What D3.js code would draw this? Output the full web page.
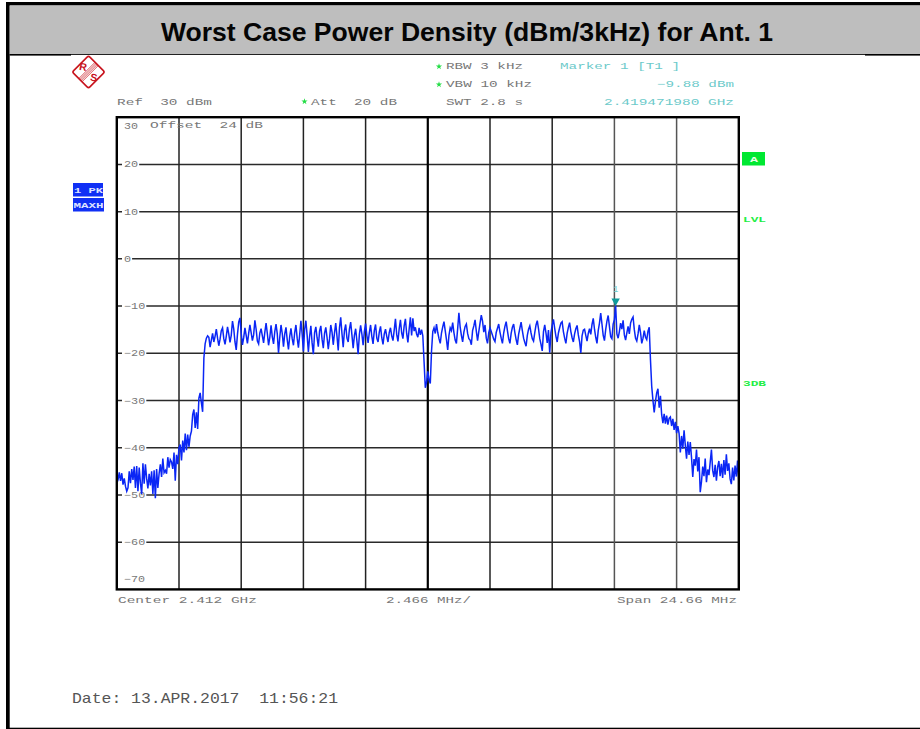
<!DOCTYPE html>
<html>
<head>
<meta charset="utf-8">
<script src="https://d3js.org/d3.v7.min.js"></script>
<style>
html,body{margin:0;padding:0;background:#fff;overflow:hidden}
svg{display:block}
text{white-space:pre}
</style>
</head>
<body>
<div id="chart"></div>
<script>
const title = "Worst Case Power Density (dBm/3kHz) for Ant. 1";
const centerMHz = 2412;
const spanMHz = 24.66;
const refLevel = 30;
const bottomLevel = -70;
const levelTicks = [20, 10, 0, -10, -20, -30, -40, -50, -60];
const freqDivisions = [1, 2, 3, 4, 5, 6, 7, 8, 9];
const markerIndex = 401;
const levels = [
-47.5,-46.8,-45.2,-47.0,-45.4,-47.8,-46.5,-48.2,-49.2,-48.5,
-45.0,-47.5,-44.5,-46.8,-44.0,-48.5,-43.9,-49.2,-44.2,-47.5,
-49.8,-43.3,-47.6,-43.5,-46.5,-48.6,-45.5,-48.0,-45.0,-49.8,
-44.8,-50.7,-44.5,-48.5,-45.5,-43.5,-46.2,-42.3,-45.3,-44.8,
-45.5,-42.0,-44.2,-42.5,-43.0,-44.5,-41.0,-47.0,-41.5,-43.5,
-40.0,-39.3,-42.7,-38.5,-41.0,-37.0,-40.5,-37.2,-39.8,-37.5,
-36.5,-33.0,-31.9,-35.8,-32.5,-36.0,-29.5,-28.4,-30.5,-32.4,
-21.0,-18.0,-16.8,-16.3,-16.6,-18.7,-17.2,-15.8,-17.6,-16.4,
-14.9,-16.8,-18.4,-17.0,-15.2,-14.6,-16.9,-18.1,-16.4,-14.4,
-15.9,-17.7,-16.2,-13.2,-14.8,-17.6,-19.3,-16.0,-13.4,-12.5,
-15.7,-18.2,-16.7,-14.6,-16.2,-17.9,-15.8,-14.0,-15.6,-17.3,
-16.1,-13.0,-14.9,-17.4,-18.0,-15.7,-14.8,-16.3,-17.8,-15.5,
-13.6,-15.8,-18.3,-16.6,-14.1,-16.5,-18.0,-15.4,-13.8,-15.9,
-19.9,-16.6,-14.0,-15.8,-18.6,-15.9,-14.5,-17.1,-19.2,-16.4,
-14.7,-16.9,-18.3,-15.6,-14.0,-16.8,-18.8,-16.1,-13.1,-15.9,
-19.6,-14.9,-13.1,-16.2,-19.7,-16.4,-14.2,-17.8,-20.2,-15.6,
-14.4,-16.7,-18.6,-15.3,-14.2,-17.0,-18.9,-15.8,-14.5,-16.6,
-19.1,-16.9,-14.0,-15.5,-18.2,-15.7,-13.6,-16.4,-19.4,-14.6,
-12.4,-15.8,-18.7,-15.2,-13.9,-16.8,-17.6,-14.9,-13.4,-16.1,
-18.9,-16.2,-14.8,-17.3,-20.2,-16.0,-14.1,-15.9,-18.3,-15.4,
-13.7,-16.2,-17.8,-15.6,-14.0,-16.4,-18.0,-15.2,-13.9,-16.8,
-17.6,-15.5,-14.3,-16.7,-18.1,-15.9,-14.9,-16.4,-17.6,-15.6,
-14.6,-16.3,-17.3,-15.1,-12.7,-16.0,-17.5,-14.8,-12.9,-15.7,
-16.9,-14.2,-12.7,-15.8,-17.7,-14.9,-12.4,-16.2,-12.6,-15.3,
-14.5,-15.9,-16.6,-14.6,-16.1,-15.0,-16.3,-21.8,-27.3,-26.1,
-23.8,-25.6,-26.4,-19.5,-15.4,-14.6,-15.8,-13.8,-15.6,-16.9,
-17.9,-15.7,-14.4,-13.3,-15.2,-17.1,-19.3,-16.2,-14.6,-15.2,
-13.5,-15.6,-17.2,-17.9,-14.8,-11.4,-14.4,-16.2,-17.6,-15.5,
-14.3,-13.8,-15.8,-16.9,-17.2,-18.2,-15.2,-14.2,-12.9,-15.3,
-17.3,-15.4,-13.6,-11.9,-13.2,-15.5,-14.0,-16.8,-17.9,-15.6,
-14.6,-15.4,-16.2,-17.0,-17.5,-15.6,-14.7,-13.8,-15.5,-16.8,
-17.9,-15.7,-14.3,-13.3,-15.2,-16.9,-17.9,-15.8,-14.5,-13.8,
-15.6,-17.1,-18.2,-16.0,-14.7,-13.4,-15.2,-16.8,-17.7,-18.5,
-16.2,-14.9,-14.2,-15.7,-16.9,-17.4,-15.6,-14.0,-13.1,-14.8,
-16.9,-18.1,-19.5,-15.4,-14.0,-15.7,-17.8,-15.1,-19.9,-15.6,
-14.1,-12.8,-14.7,-16.4,-17.6,-15.7,-14.6,-13.6,-13.3,-15.4,
-16.8,-17.9,-15.8,-14.5,-13.5,-15.4,-16.7,-17.6,-15.9,-14.8,
-14.1,-16.1,-17.5,-19.9,-16.3,-15.1,-14.9,-16.2,-17.4,-15.8,
-14.8,-16.0,-13.9,-12.6,-14.9,-16.6,-17.9,-15.2,-13.6,-11.5,
-13.8,-16.2,-17.3,-15.0,-13.2,-12.0,-14.3,-16.5,-16.9,-13.8,
-12.9,-9.88,-15.9,-16.8,-15.4,-13.6,-14.9,-13.0,-16.1,-17.2,
-15.7,-14.3,-15.9,-13.6,-12.8,-12.3,-15.0,-16.8,-17.4,-15.9,
-14.0,-15.6,-17.9,-16.8,-15.2,-16.6,-17.1,-15.3,-14.5,-21.4,
-27.0,-30.0,-32.5,-30.2,-28.4,-27.5,-31.5,-29.0,-33.0,-34.8,
-32.8,-34.9,-33.2,-35.1,-33.8,-33.5,-35.4,-33.9,-36.2,-34.5,
-36.9,-35.4,-37.0,-41.0,-37.5,-40.2,-36.3,-39.5,-42.3,-38.7,
-41.5,-38.8,-42.1,-46.2,-42.4,-43.8,-40.4,-45.0,-42.0,-49.4,
-47.2,-44.0,-46.0,-42.3,-47.3,-44.6,-45.8,-43.1,-40.4,-44.8,
-46.2,-43.6,-47.0,-44.1,-42.8,-46.0,-43.4,-46.4,-42.6,-45.7,
-41.4,-44.9,-43.3,-46.6,-47.7,-44.2,-46.9,-43.8,-46.1,-42.7,
-47.0
];

const W = 920, H = 729;
const plot = {left: 116.8, right: 738.8, top: 117.2, bottom: 589.4};
const startMHz = centerMHz - spanMHz / 2;
const stepMHz = spanMHz / (levels.length - 1);
const x = d3.scaleLinear().domain([startMHz, startMHz + spanMHz]).range([plot.left, plot.right]);
const y = d3.scaleLinear().domain([bottomLevel, refLevel]).range([plot.bottom, plot.top]);
const freqAt = i => startMHz + i * stepMHz;

const svg = d3.select("#chart").append("svg").attr("width", W).attr("height", H);
svg.append("rect").attr("width", W).attr("height", H).attr("fill", "#fff");

// page frame and title band
svg.append("rect").attr("x", 6).attr("y", 2).attr("width", W - 6).attr("height", 3.5).attr("fill", "#000");
svg.append("rect").attr("x", 6).attr("y", 2).attr("width", 3.7).attr("height", H - 2).attr("fill", "#000");
svg.append("rect").attr("x", 9.7).attr("y", 5.5).attr("width", W - 9.7).attr("height", 48.5).attr("fill", "#bebebe");
svg.append("rect").attr("x", 9.7).attr("y", 54).attr("width", W - 9.7).attr("height", 1).attr("fill", "#222");
svg.append("rect").attr("x", 9.7).attr("y", 54).attr("width", 61.3).attr("height", 1.6).attr("fill", "#000");
svg.append("rect").attr("x", 865).attr("y", 54).attr("width", 55).attr("height", 1.6).attr("fill", "#000");
svg.append("rect").attr("x", 6).attr("y", 727.7).attr("width", W - 6).attr("height", 1.3).attr("fill", "#000");
svg.append("text").attr("x", 467).attr("y", 40.5).attr("text-anchor", "middle")
  .attr("font-family", "Liberation Sans, Arial, sans-serif").attr("font-weight", "700").attr("font-size", 26.55)
  .attr("fill", "#050505").text(title);

// grid
const grid = svg.append("g");
grid.selectAll("line.h").data(levelTicks).join("line").attr("class", "h")
  .attr("x1", plot.left).attr("x2", plot.right)
  .attr("y1", d => y(d)).attr("y2", d => y(d))
  .attr("stroke", "#2a2a2a").attr("stroke-width", 1.5);
grid.selectAll("line.v").data(freqDivisions).join("line").attr("class", "v")
  .attr("x1", d => x(startMHz + d * spanMHz / 10)).attr("x2", d => x(startMHz + d * spanMHz / 10))
  .attr("y1", plot.top).attr("y2", plot.bottom)
  .attr("stroke", d => d === 5 ? "#000" : (d >= 8 ? "#555" : "#222"))
  .attr("stroke-width", d => d === 5 ? 2.2 : 1.5);

// small stretched instrument text
function label(x1, x2, base, str, color, size, weight) {
  return svg.append("text").attr("x", x1).attr("y", base)
    .attr("font-family", "Liberation Mono").attr("font-size", size || 9)
    .attr("font-weight", weight || "normal")
    .attr("fill", color).attr("textLength", x2 - x1).attr("lengthAdjust", "spacingAndGlyphs")
    .attr("xml:space", "preserve").text(str);
}
const GREY = "#777", TEAL = "#6ccaca", GREEN = "#22ee44";

// level labels with white backing that interrupts the gridline
const lab = svg.append("g");
levelTicks.forEach(d => {
  const s = d < 0 ? "\u2212" + Math.abs(d) : String(d);
  const w = s.length * 7.1;
  lab.append("rect").attr("x", 122).attr("y", y(d) - 5).attr("width", w + 3).attr("height", 10).attr("fill", "#fff");
  label(124, 124 + w, y(d) + 3, s, GREY);
});
label(124, 138, 128.5, String(refLevel), GREY);
label(124, 145, 581.5, "\u2212" + Math.abs(bottomLevel), GREY);
label(150, 263, 127.5, "Offset  24 dB", GREY);

// trace
const line = d3.line().x((d, i) => x(freqAt(i))).y(d => y(d));
svg.append("path").datum(levels).attr("d", line).attr("fill", "none")
  .attr("stroke", "#0a26f5").attr("stroke-width", 1.5).attr("stroke-linejoin", "miter");

// plot frame
svg.append("rect").attr("x", plot.left).attr("y", plot.top)
  .attr("width", plot.right - plot.left).attr("height", plot.bottom - plot.top)
  .attr("fill", "none").attr("stroke", "#000").attr("stroke-width", 2.4);

// marker: tip rests on the peak level
const mx = x(freqAt(markerIndex)), my = y(levels[markerIndex]);
svg.append("path").attr("d", d3.line()([[mx - 4.2, my - 7], [mx + 4.2, my - 7], [mx, my + 0.5]]))
  .attr("fill", "#0e9a9a");
label(mx - 2.5, mx + 2.5, my - 14, "1", TEAL);

// header readouts
label(117, 212, 104.5, "Ref  30 dBm", GREY);
label(446, 523, 69, "RBW 3 kHz", GREY);
label(446, 532, 87, "VBW 10 kHz", GREY);
label(446, 523, 104.5, "SWT 2.8 s", GREY);
label(311, 397, 104.5, "Att  20 dB", GREY);
label(560, 680, 69, "Marker 1 [T1 ]", TEAL);
label(657, 734, 87, "\u22129.88 dBm", TEAL);
label(604, 734, 104.5, "2.419471980 GHz", TEAL);
[[439, 66.5], [439, 84.5], [304.5, 101.5]].forEach(p => {
  svg.append("path").attr("transform", `translate(${p[0]},${p[1]})`)
    .attr("d", d3.symbol(d3.symbolStar, 12)()).attr("fill", "#22dd44");
});

// footer readouts
label(118, 257, 603, "Center 2.412 GHz", GREY);
label(386, 471, 603, "2.466 MHz/", GREY);
label(617, 737, 603, "Span 24.66 MHz", GREY);
label(72, 338, 703, "Date: 13.APR.2017  11:56:21", "#555", 15);

// side flags
svg.append("rect").attr("x", 73).attr("y", 183).attr("width", 30).attr("height", 13.5).attr("fill", "#1030f5");
svg.append("rect").attr("x", 73).attr("y", 198).attr("width", 31).attr("height", 13.5).attr("fill", "#1030f5");
label(74, 103, 192.5, "1 PK", "#dfe4ff", 8, "bold");
label(73.5, 103.5, 207.5, "MAXH", "#dfe4ff", 8, "bold");
svg.append("rect").attr("x", 742).attr("y", 152).attr("width", 23).attr("height", 13.5).attr("fill", "#00e832");
label(750, 758, 162, "A", "#e8ffe8", 8, "bold");
label(743, 766, 221.5, "LVL", GREEN, 8, "bold");
label(743, 766, 385.5, "3DB", GREEN, 8, "bold");

// manufacturer logo
const logo = svg.append("g").attr("transform", "translate(88.5,72) rotate(45)");
const RED = "#c8141e";
logo.append("rect").attr("x", -11.5).attr("y", -11.5).attr("width", 23).attr("height", 23)
  .attr("rx", 2).attr("fill", "#fff").attr("stroke", RED).attr("stroke-width", 1.6);
[-2.2, -0.7, 0.8, 2.3].forEach(d => {
  logo.append("line").attr("x1", d).attr("x2", d).attr("y1", -11.5).attr("y2", 11.5)
    .attr("stroke", RED).attr("stroke-width", 0.7);
});
logo.append("text").attr("x", -7.5).attr("y", 3.8).attr("text-anchor", "middle")
  .attr("font-family", "Liberation Sans").attr("font-weight", "bold").attr("font-size", 10.5).attr("fill", RED)
  .attr("transform", "rotate(-35,-7.5,0)").text("R");
logo.append("text").attr("x", 7.5).attr("y", 3.8).attr("text-anchor", "middle")
  .attr("font-family", "Liberation Sans").attr("font-weight", "bold").attr("font-size", 10.5).attr("fill", RED)
  .attr("transform", "rotate(-35,7.5,0)").text("S");
</script>
</body>
</html>
